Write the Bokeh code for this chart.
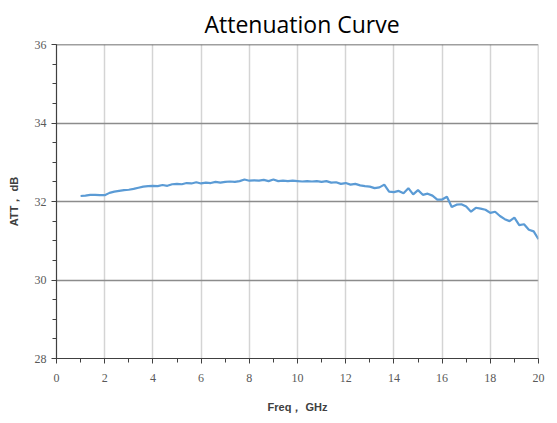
from bokeh.plotting import figure
from bokeh.models import FixedTicker, Span, Range1d
from bokeh.embed import file_html
from bokeh.resources import INLINE

freq_ghz = [1.0, 1.2, 1.4, 1.6, 1.8, 2.0, 2.2, 2.4, 2.6, 2.8,
            3.0, 3.2, 3.4, 3.6, 3.8, 4.0, 4.2, 4.4, 4.6, 4.8,
            5.0, 5.2, 5.4, 5.6, 5.8, 6.0, 6.2, 6.4, 6.6, 6.8,
            7.0, 7.2, 7.4, 7.6, 7.8, 8.0, 8.2, 8.4, 8.6, 8.8,
            9.0, 9.2, 9.4, 9.6, 9.8, 10.0, 10.2, 10.4, 10.6, 10.8,
            11.0, 11.2, 11.4, 11.6, 11.8, 12.0, 12.2, 12.4, 12.6, 12.8,
            13.0, 13.2, 13.4, 13.6, 13.8, 14.0, 14.2, 14.4, 14.6, 14.8,
            15.0, 15.2, 15.4, 15.6, 15.8, 16.0, 16.2, 16.4, 16.6, 16.8,
            17.0, 17.2, 17.4, 17.6, 17.8, 18.0, 18.2, 18.4, 18.6, 18.8,
            19.0, 19.2, 19.4, 19.6, 19.8, 20.0]
att_db = [32.14, 32.15, 32.17, 32.17, 32.16, 32.16, 32.22, 32.25, 32.27, 32.29,
          32.30, 32.32, 32.35, 32.38, 32.39, 32.40, 32.39, 32.42, 32.40, 32.44,
          32.45, 32.44, 32.47, 32.46, 32.49, 32.46, 32.48, 32.47, 32.50, 32.48,
          32.50, 32.51, 32.50, 32.52, 32.56, 32.53, 32.54, 32.53, 32.55, 32.52,
          32.56, 32.52, 32.53, 32.52, 32.53, 32.52, 32.51, 32.52, 32.51, 32.52,
          32.50, 32.52, 32.48, 32.49, 32.45, 32.47, 32.43, 32.45, 32.41, 32.39,
          32.38, 32.34, 32.36, 32.43, 32.25, 32.24, 32.27, 32.21, 32.34, 32.18,
          32.29, 32.17, 32.20, 32.15, 32.05, 32.05, 32.12, 31.86, 31.92, 31.93,
          31.87, 31.74, 31.84, 31.82, 31.79, 31.71, 31.74, 31.63, 31.55, 31.50,
          31.59, 31.40, 31.42, 31.28, 31.24, 31.04]

x_major = [0, 2, 4, 6, 8, 10, 12, 14, 16, 18, 20]
y_major = [28, 30, 32, 34, 36]

p = figure(width=549, height=415, output_backend="svg", toolbar_location=None,
           x_range=Range1d(0, 20), y_range=Range1d(28, 36),
           min_border_left=56, min_border_right=11, min_border_top=42, min_border_bottom=56)
p.title.text = "Attenuation Curve"
p.title.align = "left"
p.title.offset = 148
p.title.standoff = 10
p.title.text_font = "Open Sans"
p.title.text_font_size = "23px"
p.title.text_font_style = "normal"
p.title.text_color = "#000000"
p.outline_line_color = None
p.background_fill_color = "white"
p.border_fill_color = "white"

p.xaxis.ticker = FixedTicker(ticks=x_major, minor_ticks=list(range(0, 21)))
p.yaxis.ticker = FixedTicker(ticks=y_major, minor_ticks=[28 + 0.5 * i for i in range(17)])

for ax in (p.xaxis[0], p.yaxis[0]):
    ax.axis_line_color = "#404040"
    ax.axis_line_width = 1.2
    ax.major_tick_line_color = "#404040"
    ax.minor_tick_line_color = "#404040"
    ax.major_tick_in = 0
    ax.major_tick_out = 5
    ax.minor_tick_in = 0
    ax.minor_tick_out = 4
    ax.major_label_text_font = "Liberation Sans Narrow"
    ax.major_label_text_font_size = "12px"
    ax.major_label_text_color = "#595959"
    ax.axis_label_text_font = "Liberation Sans"
    ax.axis_label_text_font_style = "bold"
    ax.axis_label_text_font_size = "11px"
    ax.axis_label_text_color = "#404040"

p.xaxis.axis_label = "Freq， GHz"
p.yaxis.axis_label = "ATT， dB"
p.xaxis.major_label_standoff = 10
p.xaxis.axis_label_standoff = 16
p.yaxis.major_label_standoff = 5
p.yaxis.axis_label_standoff = 12

p.xgrid.ticker = FixedTicker(ticks=x_major[1:])
p.xgrid.grid_line_color = "#d4d4d4"
p.xgrid.grid_line_width = 1.5
p.ygrid.ticker = FixedTicker(ticks=[30, 32, 34])
p.ygrid.grid_line_color = "#8c8c8c"
p.ygrid.grid_line_width = 1.5

p.add_layout(Span(location=36, dimension="width", line_color="#404040", line_width=1.5))
p.add_layout(Span(location=20, dimension="height", line_color="#bdbdbd", line_width=1.5))

p.line(freq_ghz, att_db, line_color="#5b9bd5", line_width=2.2)

open("out.html", "w").write(file_html(p, INLINE))
